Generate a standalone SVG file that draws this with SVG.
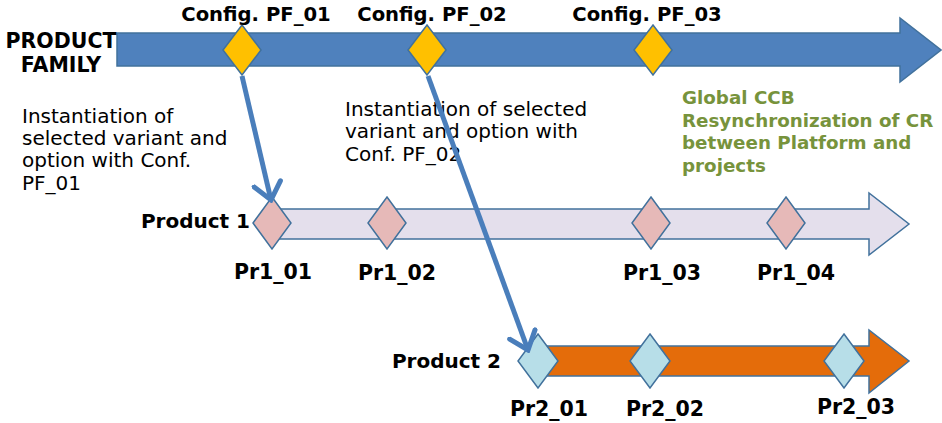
<svg xmlns="http://www.w3.org/2000/svg" width="942" height="423" viewBox="0 0 942 423">
<style>
text{font-family:"DejaVu Sans","Liberation Sans",sans-serif;fill:#000}
.b{font-weight:bold}
.cfg{font-size:19.6px;font-weight:bold;text-anchor:middle}
.lbl{font-size:20.5px;font-weight:bold;text-anchor:middle}
.prod{font-size:20px;font-weight:bold;text-anchor:end}
.note{font-size:20px}
.green{font-size:18.3px;font-weight:bold;fill:#77933C}
.bar{stroke:#41719C;stroke-width:1.5}
.dia{stroke:#41719C;stroke-width:1.5}
.gold{fill:#FFC000}
.pink{fill:#E6B9B8}
.cyan{fill:#B7DEE8}
.conn{fill:none;stroke:#4A7EBB;stroke-width:5;marker-end:url(#open)}
</style>
<defs>
<marker id="open" viewBox="0 0 22 32" refX="19" refY="16" markerWidth="22" markerHeight="32" markerUnits="userSpaceOnUse" orient="auto">
<path d="M2.5,2.5 L19,16 L2.5,29.5" fill="none" stroke="#4A7EBB" stroke-width="5" stroke-linecap="round" stroke-linejoin="miter"/>
</marker>
</defs>

<g id="product-family">
<path class="bar" d="M117,33 H900 V18 L941,50 L900,82 V66 H117 Z" fill="#4F81BD" stroke="#385D8A"/>
<text class="b" x="61" y="48" font-size="20.5" text-anchor="middle">PRODUCT</text>
<text class="b" x="61" y="72" font-size="20.5" text-anchor="middle">FAMILY</text>
</g>

<g id="product1">
<path class="bar" d="M272,209 H869 V193 L909,224 L869,255 V239 H272 Z" fill="#E4DFEC"/>
<text class="prod" x="250" y="228">Product 1</text>
</g>

<g id="product2">
<path class="bar" d="M538,346 H869 V330 L909,361 L869,393 V376 H538 Z" fill="#E46C0A"/>
<text class="prod" x="501" y="368">Product 2</text>
</g>

<g id="pf01">
<polygon class="dia gold" points="242,25 261,50 242,75 223,50"/>
<text class="cfg" x="256" y="21">Config. PF_01</text>
</g>
<g id="pf02">
<polygon class="dia gold" points="427,25 446,50 427,75 408,50"/>
<text class="cfg" x="432" y="21">Config. PF_02</text>
</g>
<g id="pf03">
<polygon class="dia gold" points="653,25 672,50 653,75 634,50"/>
<text class="cfg" x="647" y="21">Config. PF_03</text>
</g>

<g id="pr1_01">
<polygon class="dia pink" points="272,197 291,223 272,249 253,223"/>
<text class="lbl" x="273" y="279">Pr1_01</text>
</g>
<g id="pr1_02">
<polygon class="dia pink" points="387,197 406,223 387,249 368,223"/>
<text class="lbl" x="397" y="280">Pr1_02</text>
</g>
<g id="pr1_03">
<polygon class="dia pink" points="651,197 670,223 651,249 632,223"/>
<text class="lbl" x="662" y="280">Pr1_03</text>
</g>
<g id="pr1_04">
<polygon class="dia pink" points="786,197 805,223 786,249 767,223"/>
<text class="lbl" x="796" y="280">Pr1_04</text>
</g>

<g id="pr2_01">
<polygon class="dia cyan" points="538,334 558,361 538,388 518,361"/>
<text class="lbl" x="549" y="416">Pr2_01</text>
</g>
<g id="pr2_02">
<polygon class="dia cyan" points="650,334 670,361 650,388 630,361"/>
<text class="lbl" x="665" y="416">Pr2_02</text>
</g>
<g id="pr2_03">
<polygon class="dia cyan" points="844,334 864,361 844,388 824,361"/>
<text class="lbl" x="856" y="414">Pr2_03</text>
</g>

<g id="note1">
<text class="note" x="22" y="123">Instantiation of</text>
<text class="note" x="22" y="145">selected variant and</text>
<text class="note" x="22" y="167">option with Conf.</text>
<text class="note" x="22" y="190">PF_01</text>
</g>
<g id="note2">
<text class="note" x="345" y="116">Instantiation of selected</text>
<text class="note" x="345" y="138">variant and option with</text>
<text class="note" x="345" y="161">Conf. PF_02</text>
</g>
<g id="note-ccb">
<text class="green" x="682" y="104">Global CCB</text>
<text class="green" x="682" y="127">Resynchronization of CR</text>
<text class="green" x="682" y="149">between Platform and</text>
<text class="green" x="682" y="172">projects</text>
</g>

<g id="connectors">
<line class="conn" x1="242" y1="76" x2="271" y2="200"/>
<line class="conn" x1="428" y1="76" x2="528" y2="350"/>
</g>
</svg>
